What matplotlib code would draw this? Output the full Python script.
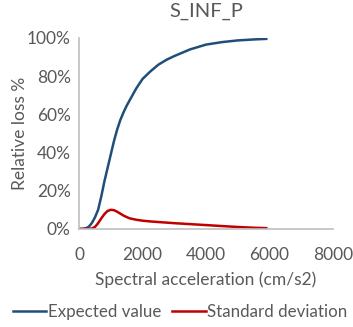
import matplotlib
matplotlib.use('Agg')
import matplotlib.pyplot as plt
from matplotlib.ticker import FuncFormatter

accel = [0, 100, 200, 300, 400, 500, 600, 700, 800, 900, 1000, 1100, 1200,
         1300, 1400, 1500, 1600, 1800, 2000, 2250, 2500, 2750, 3000, 3500,
         4000, 4500, 5000, 5500, 5900]
expected = [0, 0, 0.3, 1, 3, 6, 10, 17, 25, 32, 39, 46, 52,
            57, 61, 64.5, 67.5, 73.5, 78.5, 82.5, 86, 88.5, 90.5, 94,
            96.5, 97.8, 98.7, 99.2, 99.5]
std_dev = [0, 0, 0, 0, 0.2, 1, 3, 5.5, 7.8, 9.4, 10, 9.8, 9,
           8, 7, 6.2, 5.5, 4.8, 4.3, 3.9, 3.6, 3.3, 3, 2.5,
           2, 1.5, 1, 0.6, 0.4]

plt.rcParams['font.family'] = ['Lato', 'DejaVu Sans']
grey = '#595959'

fig = plt.figure(figsize=(3.53, 3.27), dpi=100)
ax = fig.add_axes([0.224, 0.30, 0.719, 0.584])
ax.plot(accel, expected, color='#1f4e79', lw=1.8, label='Expected value')
ax.plot(accel, std_dev, color='#c00000', lw=1.8, label='Standard deviation')

ax.set_xlim(0, 8000)
ax.set_ylim(0, 100)
ax.set_xticks([0, 2000, 4000, 6000, 8000])
ax.set_yticks([0, 20, 40, 60, 80, 100])
ax.yaxis.set_major_formatter(FuncFormatter(lambda v, p: '%d%%' % v))
ax.tick_params(length=0, colors=grey, labelsize=12.5)
ax.tick_params(axis='x', pad=13)
ax.tick_params(axis='y', pad=6)
for s in ['top', 'right']:
    ax.spines[s].set_visible(False)
for s in ['left', 'bottom']:
    ax.spines[s].set_color('#bfbfbf')
    ax.spines[s].set_linewidth(1.2)

ax.set_title('S_INF_P', color=grey, fontsize=14.5, pad=15)
ax.set_xlabel('Spectral acceleration (cm/s2)', color=grey, fontsize=12.5, labelpad=6)
ax.set_ylabel('Relative loss %', color=grey, fontsize=12.5, labelpad=-1)

fig.legend(loc='lower center', bbox_to_anchor=(0.51, 0.0), ncol=2, frameon=False,
           fontsize=12.2, labelcolor=grey, handlelength=2.0, handletextpad=0.1,
           columnspacing=0.6, borderpad=0.2, borderaxespad=0.2)

fig.savefig('out.png', dpi=100)
